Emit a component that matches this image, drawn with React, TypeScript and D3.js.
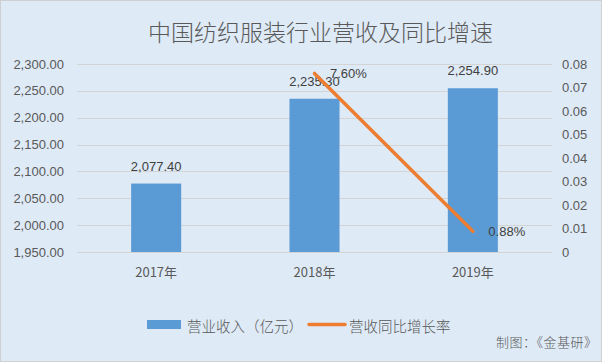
import React from 'react'
import * as d3 from 'd3'

const years = ['2017年', '2018年', '2019年']
const revenue = [2077.4, 2235.3, 2254.9]
const growth: (number | null)[] = [null, 0.076, 0.0088]
const leftTicks = [1950, 2000, 2050, 2100, 2150, 2200, 2250, 2300]
const rightTicks = [0, 0.01, 0.02, 0.03, 0.04, 0.05, 0.06, 0.07, 0.08]

const W = 602
const H = 362
const layout = { left: 77, right: 552, top: 64, bottom: 252 }

const FONT = '"Liberation Sans", Arial, sans-serif'
const CJK = '"Noto Sans CJK SC", "Liberation Sans", sans-serif'
const AXIS_COLOR = '#595959'
const LABEL_COLOR = '#404040'
const BAR_COLOR = '#5b9bd5'
const LINE_COLOR = '#ed7d31'

export default function App() {
  const x = d3.scaleBand<string>()
    .domain(years)
    .range([layout.left, layout.right])
    .paddingInner(0.684)
    .paddingOuter(0.342)

  const yLeft = d3.scaleLinear().domain([1950, 2300]).range([layout.bottom, layout.top])
  const yRight = d3.scaleLinear().domain([0, 0.08]).range([layout.bottom, layout.top])

  const cx = (d: string) => (x(d) as number) + x.bandwidth() / 2

  const linePts = years
    .map((yr, i) => ({ yr, v: growth[i] }))
    .filter(d => d.v !== null) as { yr: string; v: number }[]

  const line = d3.line<{ yr: string; v: number }>()
    .x(d => cx(d.yr))
    .y(d => yRight(d.v))

  const fmtLeft = d3.format(',.2f')
  const fmtRight = (d: number) => (d === 0 ? '0' : d3.format('.2f')(d))
  const fmtPct = d3.format('.2%')

  return (
    <div style={{ position: 'fixed', left: 0, top: 0 }}>
      <svg width={W} height={H} style={{ display: 'block' }}>
        <rect x={0.5} y={0.5} width={W - 1} height={H - 1} fill="#deeaf6" stroke="#d0d0d0" />

        <text x={320.5} y={30.5} textAnchor="middle" dominantBaseline="central"
          fontFamily={CJK} fontSize={23} fontWeight={300} fill={AXIS_COLOR}>
          中国纺织服装行业营收及同比增速
        </text>

        {/* gridlines */}
        {leftTicks.map(t => (
          <line key={t} x1={layout.left} x2={layout.right}
            y1={Math.round(yLeft(t)) + 0.5} y2={Math.round(yLeft(t)) + 0.5}
            stroke="#d4d4d4" strokeWidth={1} />
        ))}

        {/* left axis */}
        {leftTicks.map(t => (
          <text key={t} x={64} y={yLeft(t)} textAnchor="end" dominantBaseline="central"
            fontFamily={FONT} fontSize={13} fill={AXIS_COLOR}>
            {fmtLeft(t)}
          </text>
        ))}

        {/* right axis */}
        {rightTicks.map(t => (
          <text key={t} x={562} y={yRight(t)} textAnchor="start" dominantBaseline="central"
            fontFamily={FONT} fontSize={13} fill={AXIS_COLOR}>
            {fmtRight(t)}
          </text>
        ))}

        {/* bars */}
        {years.map((yr, i) => (
          <rect key={yr} x={x(yr)} y={yLeft(revenue[i])} width={x.bandwidth()}
            height={yLeft(1950) - yLeft(revenue[i])} fill={BAR_COLOR} />
        ))}

        {/* x labels */}
        {years.map(yr => (
          <text key={yr} x={cx(yr)} y={271} textAnchor="middle" dominantBaseline="central"
            fontFamily={CJK} fontSize={13} fill={AXIS_COLOR}>
            {yr}
          </text>
        ))}

        {/* bar value labels */}
        {years.map((yr, i) => (
          <text key={yr} x={cx(yr)} y={yLeft(revenue[i]) - 17.5} textAnchor="middle" dominantBaseline="central"
            fontFamily={FONT} fontSize={13} fill={LABEL_COLOR}>
            {fmtLeft(revenue[i])}
          </text>
        ))}

        {/* growth line */}
        <path d={line(linePts) || ''} fill="none" stroke={LINE_COLOR} strokeWidth={3.5} strokeLinecap="round" />

        {linePts.map(d => (
          <text key={d.yr} x={cx(d.yr) + 15.5} y={yRight(d.v)} textAnchor="start" dominantBaseline="central"
            fontFamily={FONT} fontSize={13} fill={LABEL_COLOR}>
            {fmtPct(d.v)}
          </text>
        ))}

        {/* legend */}
        <rect x={147} y={320} width={34} height={9} fill={BAR_COLOR} />
        <text x={187} y={325} dominantBaseline="central" fontFamily={CJK} fontSize={14.5} fontWeight={300} fill={AXIS_COLOR}>
          营业收入（亿元）
        </text>
        <line x1={309} x2={345} y1={324.5} y2={324.5} stroke={LINE_COLOR} strokeWidth={3.5} strokeLinecap="round" />
        <text x={349} y={325} dominantBaseline="central" fontFamily={CJK} fontSize={14.5} fontWeight={300} fill={AXIS_COLOR}>
          营收同比增长率
        </text>

        <text x={496} y={341.5} dominantBaseline="central" fontFamily={CJK} fontSize={13} fontWeight={300}
          fill={AXIS_COLOR} textLength={101} lengthAdjust="spacing">
          制图：《金基研》
        </text>
      </svg>
    </div>
  )
}
